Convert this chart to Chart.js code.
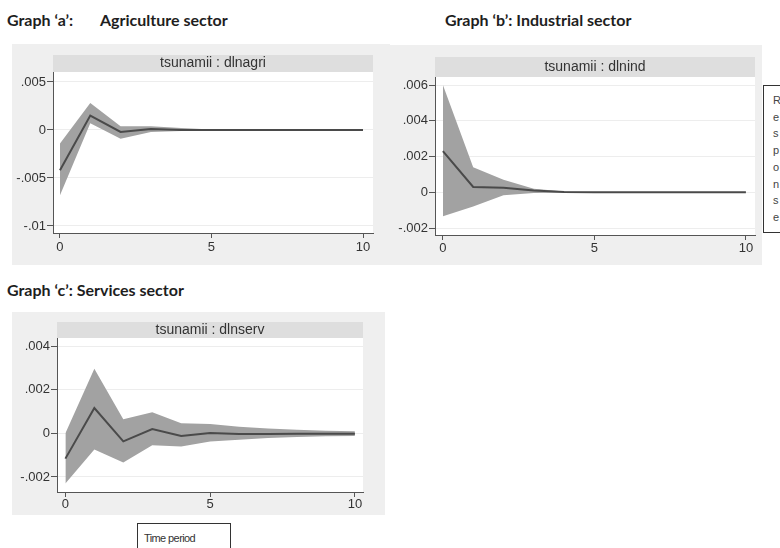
<!DOCTYPE html>
<html>
<head>
<meta charset="utf-8">
<script src="https://cdn.jsdelivr.net/npm/chart.js@4"></script>
<style>
    body { margin: 0; width: 780px; height: 548px; background: #fff; position: relative; overflow: hidden; font-family: 'Liberation Sans', Arial, sans-serif; }
    canvas { position: absolute; }
    .title { position: absolute; font-family: Lato, 'Open Sans', sans-serif; font-weight: bold; font-size: 16px; color: #1e1e1e; white-space: pre; line-height: 18px; }
    .resp-box { position: absolute; left: 763px; top: 85px; width: 30px; height: 146px; border: 1.5px solid #333; }
    .resp-box span { position: absolute; left: 9px; font-size: 11px; color: #444; line-height: 11px; }
    .time-box { position: absolute; left: 137px; top: 523px; width: 92px; height: 40px; border: 1.5px solid #333; }
    .time-box span { position: absolute; left: 6px; top: 8px; font-size: 11px; color: #333; letter-spacing: -0.6px; }
</style>
</head>
<body>
<div class="title" style="left:7px; top:11px;">Graph ‘a’:</div>
<div class="title" style="left:100px; top:11px;">Agriculture sector</div>
<div class="title" style="left:445px; top:11px;">Graph ‘b’: Industrial sector</div>
<div class="title" style="left:7px; top:281px;">Graph ‘c’: Services sector</div>

<canvas id="chart-a" width="378" height="221" style="left:12px; top:44px;"></canvas>
<canvas id="chart-b" width="372" height="220" style="left:390px; top:45px;"></canvas>
<canvas id="chart-c" width="373" height="203" style="left:12px; top:312px;"></canvas>

<div class="resp-box" id="resp-box"></div>
<div class="time-box"><span>Time period</span></div>

<script>
// Горизонт отклика (периоды)
const periods = [0, 1, 2, 3, 4, 5, 6, 7, 8, 9, 10];
const xTicks = [0, 5, 10];

// Graph 'a' - сельское хозяйство
const agriIrf   = [-0.0042, 0.0015, -0.0002, 0.0001, 0.0000, 0.0000, 0.0000, 0.0000, 0.0000, 0.0000, 0.0000];
const agriUpper = [-0.0014, 0.0028, 0.0004, 0.0004, 0.0002, 0.00005, 0.00002, 0.00001, 0.0000, 0.0000, 0.0000];
const agriLower = [-0.0068, 0.0007, -0.0009, -0.0002, -0.0001, -0.00005, -0.00002, -0.00001, 0.0000, 0.0000, 0.0000];
const agriTicks = [-0.01, -0.005, 0, 0.005];

// Graph 'b' - промышленность
const indIrf   = [0.0023, 0.0003, 0.00025, 0.0001, 0.00002, 0.0000, 0.0000, 0.0000, 0.0000, 0.0000, 0.0000];
const indUpper = [0.0060, 0.0014, 0.0007, 0.0002, 0.00005, 0.00002, 0.00001, 0.0000, 0.0000, 0.0000, 0.0000];
const indLower = [-0.00135, -0.0008, -0.00017, -0.00004, -0.00002, -0.00001, 0.0000, 0.0000, 0.0000, 0.0000, 0.0000];
const indTicks = [-0.002, 0, 0.002, 0.004, 0.006];

// Graph 'c' - услуги
const servIrf   = [-0.00116, 0.00116, -0.00037, 0.0002, -0.00012, 0.00002, -0.00003, -0.00003, -0.00002, -0.00002, -0.00002];
const servUpper = [0.0000, 0.00296, 0.00065, 0.00097, 0.00046, 0.00043, 0.0003, 0.00022, 0.00016, 0.00012, 0.0001];
const servLower = [-0.0023, -0.00074, -0.00134, -0.00055, -0.0006, -0.00037, -0.0003, -0.00022, -0.00017, -0.00013, -0.00012];
const servTicks = [-0.002, 0, 0.002, 0.004];

const responseLetters = ['R', 'e', 's', 'p', 'o', 'n', 's', 'e'];

// Цвета
const OUTER_BG = '#efefef';
const STRIP_BG = '#dedede';
const BAND_COLOR = '#a2a2a2';
const LINE_COLOR = '#4a4a4a';
const AXIS_COLOR = '#555';
const TEXT_COLOR = '#333';

// Формат Stata: .005, -.005, 0
function stataLabel(v) {
    if (Math.abs(v) < 1e-12) return '0';
    return String(+v.toFixed(4)).replace('0.', '.');
}

function toPoints(values) {
    return values.map((v, i) => ({ x: periods[i], y: v }));
}

// Фон панели и полоса с заголовком
const panelPlugin = {
    id: 'panel',
    beforeDraw(chart, args, opts) {
        const { ctx, chartArea: a } = chart;
        ctx.save();
        ctx.fillStyle = OUTER_BG;
        ctx.fillRect(0, 0, chart.width, chart.height);
        ctx.fillStyle = '#fff';
        ctx.fillRect(a.left, a.top, a.right - a.left, a.bottom - a.top);
        ctx.fillStyle = STRIP_BG;
        ctx.fillRect(a.left, a.top - opts.stripH, a.right - a.left, opts.stripH);
        ctx.fillStyle = TEXT_COLOR;
        ctx.font = '14px "Liberation Sans", Arial, sans-serif';
        ctx.textAlign = 'center';
        ctx.textBaseline = 'middle';
        ctx.fillText(opts.label, (a.left + a.right) / 2, a.top - opts.stripH / 2);
        ctx.restore();
    }
};

function makePanel(id, cfg) {
    const tickFont = { family: '"Liberation Sans", Arial, sans-serif', size: 13 };
    return new Chart(document.getElementById(id), {
        type: 'line',
        data: {
            datasets: [
                { data: toPoints(cfg.irf), borderColor: LINE_COLOR, borderWidth: 2, pointRadius: 0, fill: false, order: 0 },
                { data: toPoints(cfg.upper), borderWidth: 0, borderColor: BAND_COLOR, backgroundColor: BAND_COLOR, pointRadius: 0, fill: '+1', order: 1 },
                { data: toPoints(cfg.lower), borderWidth: 0, borderColor: BAND_COLOR, backgroundColor: BAND_COLOR, pointRadius: 0, fill: false, order: 2 }
            ]
        },
        options: {
            responsive: false,
            animation: false,
            devicePixelRatio: 1,
            layout: { padding: { top: cfg.padTop, right: cfg.padRight, left: 0, bottom: 0 } },
            plugins: {
                legend: { display: false },
                tooltip: { enabled: false },
                panel: { label: cfg.label, stripH: cfg.stripH }
            },
            scales: {
                x: {
                    type: 'linear',
                    min: cfg.xMin,
                    max: cfg.xMax,
                    afterBuildTicks: s => { s.ticks = xTicks.map(v => ({ value: v })); },
                    afterFit: s => { s.height = cfg.xH; },
                    grid: { drawOnChartArea: false, drawTicks: true, tickLength: 5, tickColor: AXIS_COLOR },
                    border: { display: true, color: AXIS_COLOR, width: 1 },
                    ticks: { font: tickFont, color: TEXT_COLOR, padding: cfg.xPad, maxRotation: 0, autoSkip: false }
                },
                y: {
                    min: cfg.yMin,
                    max: cfg.yMax,
                    afterBuildTicks: s => { s.ticks = cfg.yTicks.map(v => ({ value: v })); },
                    afterFit: s => { s.width = cfg.yW; },
                    grid: { color: '#ededed', tickColor: AXIS_COLOR, tickLength: 6, drawTicks: true },
                    border: { display: true, color: AXIS_COLOR, width: 1 },
                    ticks: { font: tickFont, color: TEXT_COLOR, padding: 1, callback: v => stataLabel(v), autoSkip: false }
                }
            }
        },
        plugins: [panelPlugin]
    });
}

// Подпись "Response" по буквам
const respBox = document.getElementById('resp-box');
responseLetters.forEach((ch, i) => {
    const s = document.createElement('span');
    s.textContent = ch;
    s.style.top = (9 + i * 16.7) + 'px';
    respBox.appendChild(s);
});

makePanel('chart-a', {
    label: 'tsunamii : dlnagri', irf: agriIrf, upper: agriUpper, lower: agriLower, yTicks: agriTicks,
    xMin: -0.23, xMax: 10.33, yMin: -0.01073, yMax: 0.00604,
    padTop: 28, padRight: 17, yW: 41, xH: 32, xPad: 2, stripH: 17
});

makePanel('chart-b', {
    label: 'tsunamii : dlnind', irf: indIrf, upper: indUpper, lower: indLower, yTicks: indTicks,
    xMin: -0.26, xMax: 10.3, yMin: -0.00239, yMax: 0.00645,
    padTop: 32, padRight: 7, yW: 45, xH: 30, xPad: 1, stripH: 20
});

makePanel('chart-c', {
    label: 'tsunamii : dlnserv', irf: servIrf, upper: servUpper, lower: servLower, yTicks: servTicks,
    xMin: -0.29, xMax: 10.28, yMin: -0.00269, yMax: 0.00437,
    padTop: 26, padRight: 22, yW: 45, xH: 23, xPad: 0, stripH: 16
});
</script>
</body>
</html>
